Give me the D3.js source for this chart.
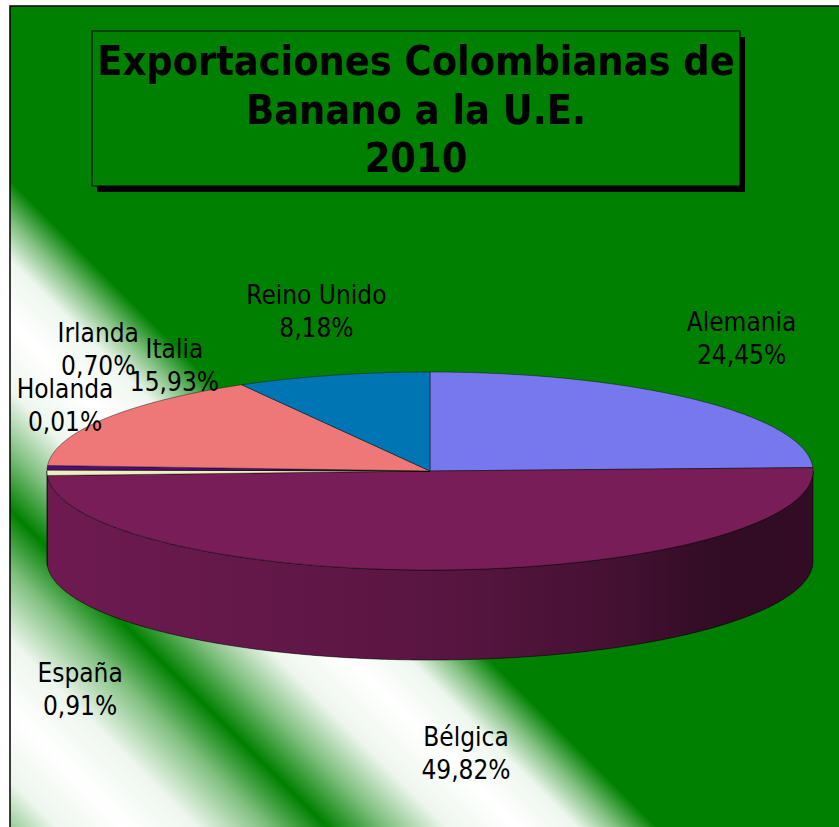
<!DOCTYPE html>
<html>
<head>
<meta charset="utf-8">
<script src="https://cdn.jsdelivr.net/npm/d3@7"></script>
<style>
  body { margin: 0; background: #fff; }
  text { font-family: "DejaVu Sans Condensed", "DejaVu Sans", sans-serif; font-stretch: condensed; }
</style>
</head>
<body>
<div id="chart"></div>
<script>
// 3d pie: exportaciones de banano 2010
// ====================================

var countries = ["Alemania", "Bélgica", "España", "Holanda", "Irlanda", "Italia", "Reino Unido"];
var shares = [24.45, 49.82, 0.91, 0.01, 0.70, 15.93, 8.18];
var shareLabels = ["24,45%", "49,82%", "0,91%", "0,01%", "0,70%", "15,93%", "8,18%"];
var titleLines = ["Exportaciones Colombianas de", "Banano a la U.E.", "2010"];

var colours = ["#7878ee", "#791d59", "#eeeebe", "#beeeee", "#560a78", "#ee7777", "#0075b4"];

var width = 839,
    height = 827;

var svg = d3.select("#chart").append("svg")
    .attr("width", width)
    .attr("height", height);

var defs = svg.append("defs");

// background: green with two diagonal white bands (u = x - y)
var bandStops = [[-880, "#008000"], [-830, "#80c080"], [-770, "#eef6ee"], [-700, "#ffffff"], [-630, "#eef6ee"],
                 [-560, "#80c080"], [-500, "#008000"], [-440, "#80c080"], [-380, "#eef6ee"], [-310, "#ffffff"],
                 [-250, "#eef6ee"], [-210, "#80c080"], [-170, "#008000"]];
var u0 = bandStops[0][0], u1 = bandStops[bandStops.length - 1][0];
var bg = defs.append("linearGradient")
    .attr("id", "bg")
    .attr("gradientUnits", "userSpaceOnUse")
    .attr("x1", u0 / 2).attr("y1", -u0 / 2)
    .attr("x2", u1 / 2).attr("y2", -u1 / 2);
bg.selectAll("stop").data(bandStops).enter().append("stop")
    .attr("offset", d => (d[0] - u0) / (u1 - u0))
    .attr("stop-color", d => d[1]);

svg.append("rect")
    .attr("x", 10).attr("y", 6)
    .attr("width", width + 20).attr("height", height + 20)
    .attr("fill", "url(#bg)")
    .attr("stroke", "#000")
    .attr("stroke-width", 1.5);

// title box with shadow
var box = {x: 92, y: 31, w: 648, h: 155};
svg.append("rect")
    .attr("x", box.x + 5).attr("y", box.y + 6)
    .attr("width", box.w).attr("height", box.h)
    .attr("fill", "#000");
svg.append("rect")
    .attr("x", box.x).attr("y", box.y)
    .attr("width", box.w).attr("height", box.h)
    .attr("fill", "#008000")
    .attr("stroke", "#000")
    .attr("stroke-width", 1);

svg.selectAll(".title")
    .data(titleLines)
    .enter().append("text")
    .attr("class", "title")
    .attr("x", box.x + box.w / 2)
    .attr("y", (d, i) => 75 + i * 48.5)
    .attr("text-anchor", "middle")
    .attr("font-size", 41)
    .attr("font-weight", "bold")
    .attr("fill", "#000")
    .text(d => d);

// pie geometry (ellipse)
var cx = 430, cy = 471, rx = 383, ry = 99, depth = 90;

var pie = d3.pie().sort(null).value(d => d.v);
var slices = pie(countries.map((c, i) => ({name: c, v: shares[i], label: shareLabels[i], colour: colours[i]})));

function pt(a, off) {
  return [cx + rx * Math.sin(a), cy - ry * Math.cos(a) + (off || 0)];
}
function arcPts(a0, a1, off) {
  var n = Math.max(2, Math.ceil(Math.abs(a1 - a0) / 0.01));
  return d3.range(n + 1).map(k => pt(a0 + (a1 - a0) * k / n, off));
}
var line = d3.line();

// side shading (darker to the right)
var shade = defs.append("linearGradient")
    .attr("id", "shade")
    .attr("gradientUnits", "userSpaceOnUse")
    .attr("x1", cx - rx).attr("y1", 0)
    .attr("x2", cx + rx).attr("y2", 0);
[[0, 0.09], [0.5, 0.26], [0.75, 0.44], [0.86, 0.58], [1, 0.6]].forEach(function (s) {
  shade.append("stop").attr("offset", s[0]).attr("stop-color", "#000").attr("stop-opacity", s[1]);
});

var sides = slices.map(function (s) {
  var a0 = Math.max(s.startAngle, Math.PI / 2), a1 = Math.min(s.endAngle, 3 * Math.PI / 2);
  if (a0 >= a1) return null;
  var p = arcPts(a0, a1, 0).concat(arcPts(a1, a0, depth));
  return {d: line(p) + "Z", colour: s.data.colour};
}).filter(d => d);

svg.selectAll(".side")
    .data(sides)
    .enter().append("path")
    .attr("class", "side")
    .attr("d", d => d.d)
    .attr("fill", d => d.colour)
    .attr("stroke", "none");

svg.selectAll(".sideShade")
    .data(sides)
    .enter().append("path")
    .attr("class", "sideShade")
    .attr("d", d => d.d)
    .attr("fill", "url(#shade)")
    .attr("stroke", "#000")
    .attr("stroke-opacity", 0.7)
    .attr("stroke-width", 0.8);

// top faces
svg.selectAll(".top")
    .data(slices)
    .enter().append("path")
    .attr("class", "top")
    .attr("d", d => line([[cx, cy]].concat(arcPts(d.startAngle, d.endAngle, 0))) + "Z")
    .attr("fill", d => d.data.colour)
    .attr("stroke", "#000")
    .attr("stroke-opacity", 0.6)
    .attr("stroke-width", 0.7)
    .attr("stroke-linejoin", "round");

// labels: anchored on an outer ellipse at the mid angle, then nudged like excel did
var lrx = 447, lry = 180;
var nudge = {
  "Alemania": [1, -4], "Bélgica": [18, 12], "España": [97, 125], "Holanda": [82, -64],
  "Irlanda": [115, -116], "Italia": [124, -11], "Reino Unido": [0, 14]
};
var lab = svg.selectAll(".lab")
    .data(slices)
    .enter().append("text")
    .attr("class", "lab")
    .attr("text-anchor", "middle")
    .attr("font-size", 26)
    .attr("fill", "#000")
    .attr("transform", function (d) {
      var m = (d.startAngle + d.endAngle) / 2;
      var x = cx + lrx * Math.sin(m) + nudge[d.data.name][0];
      var y = cy - lry * Math.cos(m) + (Math.cos(m) < 0 ? depth : 0) + nudge[d.data.name][1] - 7;
      return "translate(" + x + "," + y + ")";
    });
lab.append("tspan").attr("x", 0).attr("y", 0).text(d => d.data.name);
lab.append("tspan").attr("x", 0).attr("y", 33).text(d => d.data.label);
</script>
</body>
</html>
